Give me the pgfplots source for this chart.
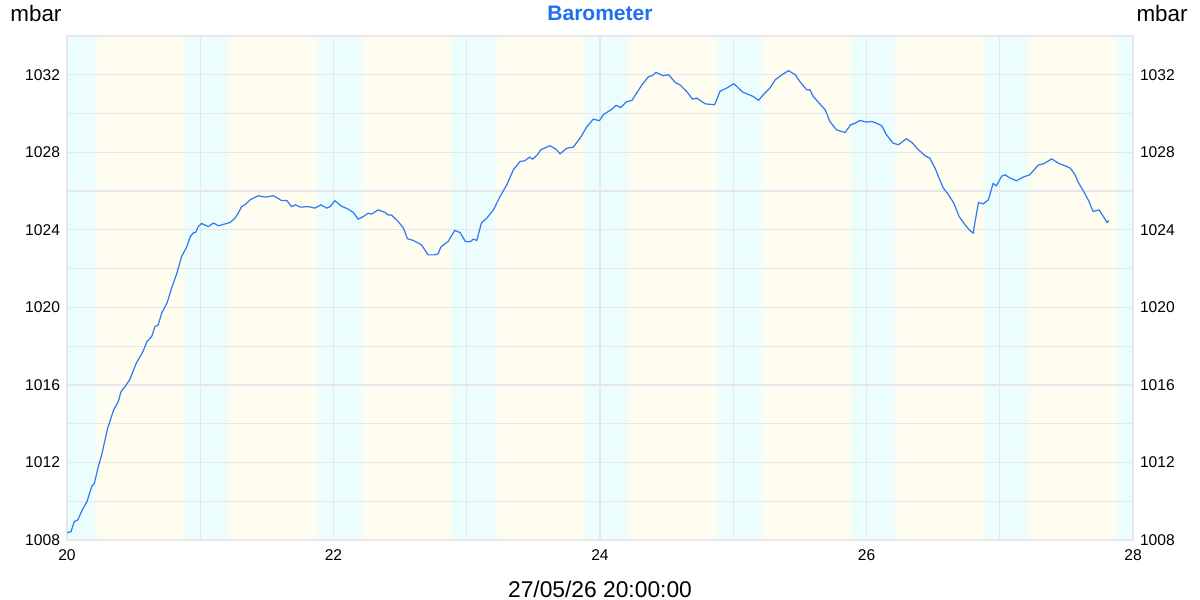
\documentclass[border=0pt]{standalone}
\usepackage{pgfplots}
\pgfplotsset{compat=1.18}
\usepackage{fontspec}
\setmainfont{Liberation Sans}
\definecolor{cyanbg}{RGB}{236,253,253}
\definecolor{yellowbg}{RGB}{254,253,239}
\definecolor{gridc}{RGB}{231,231,235}
\definecolor{linec}{RGB}{45,120,245}
\definecolor{titlec}{RGB}{30,110,240}
\pgfplotsset{
  bandc/.style={on layer=axis background, draw=none, fill=cyanbg, mark=none},
  bandcy/.style={on layer=axis background, draw=none, left color=cyanbg, right color=yellowbg, mark=none},
  bandyc/.style={on layer=axis background, draw=none, left color=yellowbg, right color=cyanbg, mark=none},
}
\begin{document}
\begin{tikzpicture}
\begin{axis}[
  set layers,
  at={(33.5pt,30pt)}, anchor=south west,
  scale only axis, width=533pt, height=252pt,
  xmin=20, xmax=28, ymin=1008, ymax=1034,
  xtick={20,22,...,28}, minor xtick={21,23,25,27},
  ytick={1008,1012,...,1032}, minor ytick={1010,1014,...,1034},
  grid=both,
  major grid style={gridc, line width=0.65pt},
  minor grid style={gridc, line width=0.65pt},
  major tick length=0pt, minor tick length=0pt,
  axis line style={gridc, line width=0.65pt},
  tick label style={font=\fontsize{7.8}{9}\selectfont, text=black},
  xticklabel style={yshift=-1.5pt},
  /pgf/number format/assume math mode=true,
  /pgf/number format/1000 sep={},
  axis background/.style={fill=yellowbg},
]
% night bands
\addplot[bandc] coordinates {(20,1008) (20,1034) (20.18,1034) (20.18,1008)} -- cycle;
\addplot[bandcy] coordinates {(20.18,1008) (20.18,1034) (20.24,1034) (20.24,1008)} -- cycle;
\addplot[bandyc] coordinates {(20.86,1008) (20.86,1034) (20.90,1034) (20.90,1008)} -- cycle;
\addplot[bandc] coordinates {(20.90,1008) (20.90,1034) (21.18,1034) (21.18,1008)} -- cycle;
\addplot[bandcy] coordinates {(21.18,1008) (21.18,1034) (21.24,1034) (21.24,1008)} -- cycle;
\addplot[bandyc] coordinates {(21.86,1008) (21.86,1034) (21.90,1034) (21.90,1008)} -- cycle;
\addplot[bandc] coordinates {(21.90,1008) (21.90,1034) (22.18,1034) (22.18,1008)} -- cycle;
\addplot[bandcy] coordinates {(22.18,1008) (22.18,1034) (22.24,1034) (22.24,1008)} -- cycle;
\addplot[bandyc] coordinates {(22.86,1008) (22.86,1034) (22.90,1034) (22.90,1008)} -- cycle;
\addplot[bandc] coordinates {(22.90,1008) (22.90,1034) (23.18,1034) (23.18,1008)} -- cycle;
\addplot[bandcy] coordinates {(23.18,1008) (23.18,1034) (23.24,1034) (23.24,1008)} -- cycle;
\addplot[bandyc] coordinates {(23.86,1008) (23.86,1034) (23.90,1034) (23.90,1008)} -- cycle;
\addplot[bandc] coordinates {(23.90,1008) (23.90,1034) (24.18,1034) (24.18,1008)} -- cycle;
\addplot[bandcy] coordinates {(24.18,1008) (24.18,1034) (24.24,1034) (24.24,1008)} -- cycle;
\addplot[bandyc] coordinates {(24.86,1008) (24.86,1034) (24.90,1034) (24.90,1008)} -- cycle;
\addplot[bandc] coordinates {(24.90,1008) (24.90,1034) (25.18,1034) (25.18,1008)} -- cycle;
\addplot[bandcy] coordinates {(25.18,1008) (25.18,1034) (25.24,1034) (25.24,1008)} -- cycle;
\addplot[bandyc] coordinates {(25.86,1008) (25.86,1034) (25.90,1034) (25.90,1008)} -- cycle;
\addplot[bandc] coordinates {(25.90,1008) (25.90,1034) (26.18,1034) (26.18,1008)} -- cycle;
\addplot[bandcy] coordinates {(26.18,1008) (26.18,1034) (26.24,1034) (26.24,1008)} -- cycle;
\addplot[bandyc] coordinates {(26.86,1008) (26.86,1034) (26.90,1034) (26.90,1008)} -- cycle;
\addplot[bandc] coordinates {(26.90,1008) (26.90,1034) (27.18,1034) (27.18,1008)} -- cycle;
\addplot[bandcy] coordinates {(27.18,1008) (27.18,1034) (27.24,1034) (27.24,1008)} -- cycle;
\addplot[bandyc] coordinates {(27.86,1008) (27.86,1034) (27.90,1034) (27.90,1008)} -- cycle;
\addplot[bandc] coordinates {(27.90,1008) (27.90,1034) (28,1034) (28,1008)} -- cycle;
% barometer line
\addplot[linec, line width=0.6pt, mark=none] coordinates {
(20.00,1008.38) (20.03,1008.43) (20.055,1008.95) (20.08,1009.03) (20.12,1009.63)
(20.15,1009.98) (20.185,1010.75) (20.205,1010.92) (20.235,1011.78) (20.26,1012.39)
(20.305,1013.76) (20.35,1014.71) (20.385,1015.14) (20.405,1015.65) (20.435,1015.91)
(20.47,1016.26) (20.52,1017.12) (20.57,1017.72) (20.60,1018.24) (20.635,1018.49)
(20.66,1019.01) (20.685,1019.10) (20.71,1019.70) (20.75,1020.22) (20.785,1020.99)
(20.825,1021.77) (20.86,1022.62) (20.90,1023.14) (20.925,1023.65) (20.95,1023.86)
(20.965,1023.86) (20.985,1024.17) (21.01,1024.33) (21.06,1024.17) (21.10,1024.35)
(21.135,1024.21) (21.225,1024.38) (21.26,1024.60) (21.285,1024.86) (21.31,1025.20)
(21.335,1025.29) (21.375,1025.55) (21.435,1025.76) (21.485,1025.69) (21.55,1025.76)
(21.61,1025.51) (21.65,1025.51) (21.685,1025.20) (21.715,1025.29) (21.75,1025.17)
(21.81,1025.20) (21.86,1025.12) (21.905,1025.29) (21.95,1025.12) (21.975,1025.20)
(22.01,1025.50) (22.06,1025.22) (22.11,1025.07) (22.15,1024.89) (22.185,1024.55)
(22.225,1024.69) (22.26,1024.86) (22.285,1024.81) (22.335,1025.03) (22.385,1024.91)
(22.41,1024.77) (22.435,1024.77) (22.485,1024.43) (22.525,1024.09) (22.555,1023.54)
(22.60,1023.45) (22.66,1023.23) (22.71,1022.71) (22.76,1022.71) (22.785,1022.76)
(22.805,1023.11) (22.86,1023.40) (22.91,1023.97) (22.95,1023.86) (22.99,1023.40)
(23.025,1023.38) (23.05,1023.52) (23.075,1023.45) (23.11,1024.35) (23.15,1024.60)
(23.20,1025.03) (23.25,1025.72) (23.30,1026.32) (23.35,1027.10) (23.40,1027.53)
(23.435,1027.56) (23.47,1027.75) (23.495,1027.65) (23.53,1027.87) (23.555,1028.13)
(23.625,1028.34) (23.675,1028.13) (23.70,1027.92) (23.75,1028.21) (23.80,1028.27)
(23.85,1028.73) (23.90,1029.30) (23.95,1029.71) (23.995,1029.63) (24.025,1029.94)
(24.09,1030.23) (24.12,1030.42) (24.155,1030.31) (24.20,1030.61) (24.24,1030.68)
(24.315,1031.48) (24.365,1031.91) (24.39,1031.95) (24.42,1032.12) (24.475,1031.95)
(24.515,1032.00) (24.565,1031.60) (24.60,1031.48) (24.65,1031.14) (24.695,1030.74)
(24.725,1030.80) (24.79,1030.50) (24.86,1030.45) (24.90,1031.14) (24.95,1031.31)
(25.005,1031.54) (25.07,1031.11) (25.15,1030.88) (25.19,1030.68) (25.225,1030.97)
(25.275,1031.31) (25.315,1031.74) (25.365,1032.00) (25.415,1032.21) (25.465,1032.00)
(25.50,1031.65) (25.55,1031.23) (25.575,1031.23) (25.60,1030.88) (25.69,1030.19)
(25.725,1029.59) (25.775,1029.16) (25.84,1029.02) (25.88,1029.42) (25.915,1029.50)
(25.95,1029.64) (26.00,1029.56) (26.04,1029.59) (26.075,1029.50) (26.115,1029.37)
(26.15,1028.90) (26.20,1028.47) (26.24,1028.39) (26.30,1028.70) (26.34,1028.51)
(26.39,1028.13) (26.44,1027.82) (26.475,1027.70) (26.515,1027.18) (26.55,1026.58)
(26.575,1026.18) (26.615,1025.81) (26.655,1025.38) (26.695,1024.69) (26.74,1024.26)
(26.775,1023.97) (26.80,1023.83) (26.84,1025.41) (26.875,1025.34) (26.915,1025.55)
(26.95,1026.39) (26.975,1026.27) (27.015,1026.77) (27.04,1026.84) (27.065,1026.72)
(27.125,1026.53) (27.175,1026.72) (27.225,1026.84) (27.29,1027.35) (27.33,1027.41)
(27.39,1027.66) (27.44,1027.44) (27.49,1027.30) (27.53,1027.18) (27.565,1026.84)
(27.59,1026.44) (27.63,1025.98) (27.67,1025.46) (27.70,1024.95) (27.745,1025.03)
(27.78,1024.66) (27.805,1024.38) (27.82,1024.48)
};
\end{axis}
\begin{axis}[
  at={(33.5pt,30pt)}, anchor=south west,
  scale only axis, width=533pt, height=252pt,
  xmin=20, xmax=28, ymin=1008, ymax=1034,
  axis y line*=right, hide x axis,
  ytick={1008,1012,...,1032},
  axis line style={draw=none},
  major tick length=0pt,
  tick label style={font=\fontsize{7.8}{9}\selectfont, text=black},
  /pgf/number format/assume math mode=true,
  /pgf/number format/1000 sep={},
]
\addplot[draw=none, mark=none] coordinates {(20,1008) (28,1034)};
\end{axis}
\node[anchor=base west, inner sep=0pt, font=\fontsize{11.2}{13}\selectfont] at (5pt,289pt) {mbar};
\node[anchor=base east, inner sep=0pt, font=\fontsize{11.2}{13}\selectfont] at (594pt,289pt) {mbar};
\node[anchor=base, inner sep=0pt, font=\bfseries\fontsize{10.5}{12}\selectfont, text=titlec] at (300pt,289.5pt) {Barometer};
\node[anchor=base, inner sep=0pt, font=\fontsize{11.4}{13}\selectfont] at (300pt,1.5pt) {27/05/26 20:00:00};
\pgfresetboundingbox
\path[use as bounding box] (0,0) rectangle (600pt,300pt);
\end{tikzpicture}
\end{document}
